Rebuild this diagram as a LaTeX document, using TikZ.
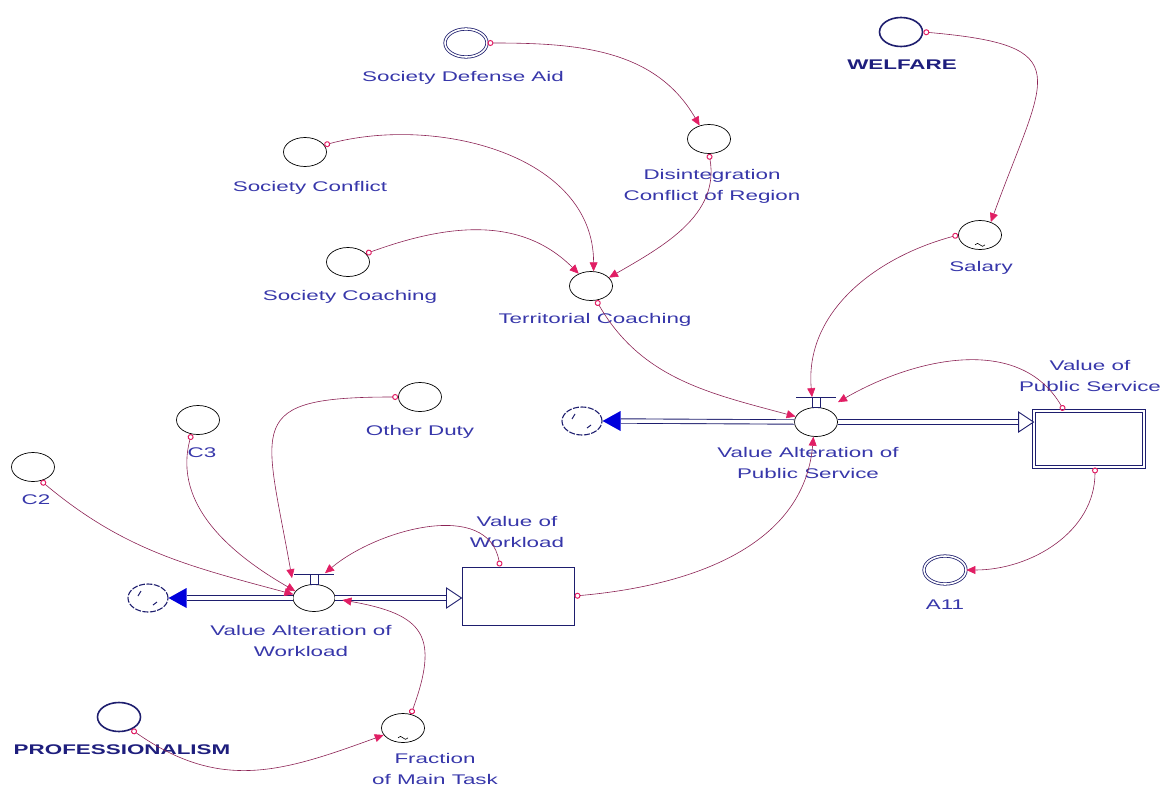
\documentclass[tikz,border=0pt]{standalone}
\usepackage{fontspec}
\usepackage{tikz}
\usetikzlibrary{arrows.meta,shapes.geometric,calc}
\newfontfamily\lblfont[FakeStretch=1.6]{Liberation Sans}
\definecolor{lbltext}{RGB}{55,55,170}
\definecolor{boldtext}{RGB}{30,30,125}
\definecolor{navy}{RGB}{30,30,110}
\definecolor{pipeblue}{RGB}{0,0,220}
\definecolor{linkc}{RGB}{140,35,85}
\definecolor{linkh}{RGB}{225,30,100}
\tikzset{
    aux/.style={ellipse,draw,line width=0.7pt,minimum width=43pt,minimum height=29pt,inner sep=0pt},
    dblaux/.style={aux,draw=navy,double,double distance=1.6pt,line width=0.8pt,minimum width=42pt,minimum height=28pt},
    boldaux/.style={aux,draw=navy,line width=1.6pt},
    cloudy/.style={ellipse,draw=navy,line width=1.1pt,dash pattern=on 6pt off 1.5pt,minimum width=40pt,minimum height=28pt,inner sep=0pt},
    pipe/.style={draw=navy,double=white,double distance=3.5pt,line width=0.9pt},
    link/.style={draw=linkc,line width=0.6pt,arrows={Circle[open,length=6pt,width=6pt,color=linkh,line width=1pt]-Triangle[length=9pt,width=8pt,color=linkh]}},
    lbl/.style={font=\lblfont\fontsize{14}{21}\selectfont,text=lbltext,align=center,inner sep=0pt},
    blbl/.style={lbl,font=\lblfont\bfseries\fontsize{14}{21}\selectfont,text=boldtext}
}
\begin{document}
\begin{tikzpicture}[x=1pt,y=1pt]
    \useasboundingbox (0,0) rectangle (1166,-789);
    \node[dblaux] (sda) at (466,-43) {};
    \node[aux] (dcr) at (709,-139) {};
    \node[aux] (sco) at (305,-152) {};
    \node[aux] (sch) at (348,-262) {};
    \node[aux] (tco) at (591,-286) {};
    \node[boldaux] (wel) at (901,-32) {};
    \node[aux] (sal) at (980,-235) {};
    \node[aux,minimum width=43pt] (vaps) at (816,-422) {};
    \node[draw=navy,double,double distance=2pt,line width=0.9pt,minimum width=110pt,minimum height=56pt] (vps) at (1089,-439) {};
    \node[cloudy] (cloudR) at (582,-421) {};
    \node[dblaux] (a11) at (945,-570) {};
    \node[aux] (od) at (420,-397) {};
    \node[aux] (c3) at (198,-420) {};
    \node[aux] (c2) at (33,-467) {};
    \node[aux,minimum width=42pt,minimum height=27pt] (vawl) at (314,-598) {};
    \node[cloudy] (cloudL) at (148,-598) {};
    \node[draw=navy,line width=1pt,minimum width=112pt,minimum height=58pt] (vwl) at (518,-596) {};
    \node[aux] (fmt) at (403,-728) {};
    \node[boldaux] (pro) at (119,-717) {};

    \node[lbl] at (463,-78) {Society Defense Aid};
    \node[lbl] at (712,-186) {Disintegration\\Conflict of Region};
    \node[lbl] at (310,-188) {Society Conflict};
    \node[lbl] at (350,-297) {Society Coaching};
    \node[lbl] at (595,-320) {Territorial Coaching};
    \node[blbl] at (902,-65) {WELFARE};
    \node[lbl] at (981,-268) {Salary};
    \node[lbl] at (808,-463) {Value Alteration of\\Public Service};
    \node[lbl] at (1090,-376) {Value of\\Public Service};
    \node[lbl] at (945,-605) {A11};
    \node[lbl] at (420,-432) {Other Duty};
    \node[lbl] at (202,-453) {C3};
    \node[lbl] at (36,-500) {C2};
    \node[lbl] at (517,-532) {Value of\\Workload};
    \node[lbl] at (301,-641) {Value Alteration of\\Workload};
    \node[lbl] at (435,-769) {Fraction\\of Main Task};
    \node[blbl] at (122,-750) {PROFESSIONALISM};

    \foreach \v in {vaps,vawl}{
        \draw[navy,line width=0.8pt] ($(\v.north)+(-20,10)$) -- ++(40,0);
        \draw[navy,line width=0.8pt] ($(\v.north)+(-4,0)$) rectangle ++(8,10);
    }
    \foreach \c in {cloudR,cloudL}{
        \draw[navy,line width=1pt] ($(\c.center)+(-10,2)$) -- ++(3,5);
        \draw[navy,line width=1pt] ($(\c.center)+(5,-7)$) -- ++(4,3);
    }
    \draw[line width=0.6pt] ($(sal.south)+(-5,5)$) sin ++(2.5,1.5) cos ++(2.5,-1.5) sin ++(2.5,-1.5) cos ++(2.5,1.5);
    \draw[line width=0.6pt] ($(fmt.south)+(-5,5)$) sin ++(2.5,1.5) cos ++(2.5,-1.5) sin ++(2.5,-1.5) cos ++(2.5,1.5);

    \coordinate (vapsL) at ($(vaps.north)+(-4,10)$);
    \coordinate (vapsR) at ($(vaps.north)+(22,5)$);
    \coordinate (vawlL) at ($(vawl.north)+(-22,6)$);
    \coordinate (vawlR) at ($(vawl.north)+(11,11)$);
    \coordinate (vawlE) at ($(vawl.east)+(7,-2)$);
    \coordinate (vpsT) at ($(vps.north)+(-25,0)$);
    \coordinate (vpsB) at ($(vps.south)+(6,0)$);
    \coordinate (vwlT) at ($(vwl.north)+(-18,0)$);

    \draw[pipe] ($(cloudR.east)+(18,0)$) -- (vaps.west);
    \fill[pipeblue] (cloudR.east) -- ++(18,10) -- ++(0,-20) -- cycle;
    \draw[pipe] (vaps.east) -- ($(vps.west |- vaps.center)+(-15,0)$);
    \draw[navy,fill=white,line width=0.9pt] (vps.west |- vaps.center) -- ++(-15,10) -- ++(0,-20) -- cycle;
    \draw[pipe] ($(cloudL.east)+(18,0)$) -- (vawl.west);
    \fill[pipeblue] (cloudL.east) -- ++(18,10) -- ++(0,-20) -- cycle;
    \draw[pipe] (vawl.east) -- ($(vwl.west |- vawl.center)+(-15,0)$);
    \draw[navy,fill=white,line width=0.9pt] (vwl.west |- vawl.center) -- ++(-15,10) -- ++(0,-20) -- cycle;

    \draw[link] (sda.east) to[out=0,in=120] (dcr.125);
    \draw[link] (dcr.south) to[out=-80,in=30] (tco.25);
    \draw[link] (sco.20) to[out=15,in=90] (tco.80);
    \draw[link] (sch.25) to[out=20,in=135] (tco.135);
    \draw[link] (tco.-70) to[out=-60,in=165] (vaps.165);
    \draw[link] (wel.east) to[out=-5,in=70,looseness=2] (sal.50);
    \draw[link] (sal.west) to[out=195,in=95] (vapsL);
    \draw[link] (vpsT) to[out=120,in=30] (vapsR);
    \draw[link] (vpsB) to[out=-90,in=0] (a11.east);
    \draw[link] (vwl.east) to[out=5,in=-95] (vaps.-100);
    \draw[link] (od.west) to[out=180,in=100,looseness=1.9] (vawlL);
    \draw[link] (c3.-115) to[out=-105,in=150] (vawl.160);
    \draw[link] (c2.-60) to[out=-40,in=165] (vawl.170);
    \draw[link] (vwlT) to[out=100,in=40] (vawlR);
    \draw[link] (fmt.60) to[out=70,in=-10,looseness=1.6] (vawlE);
    \draw[link] (pro.-45) to[out=-35,in=200,looseness=1.1] (fmt.200);
\end{tikzpicture}
\end{document}
